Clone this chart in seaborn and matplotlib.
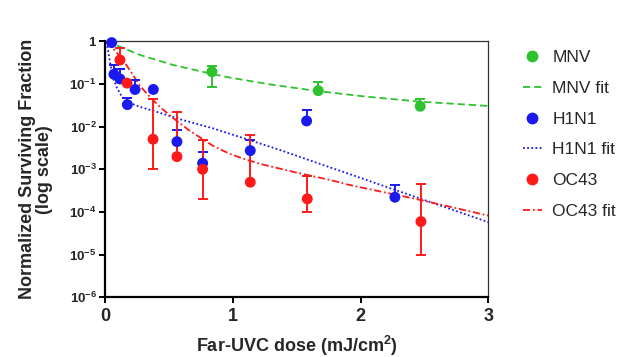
import numpy as np
import pandas as pd
import matplotlib
matplotlib.use("Agg")
import matplotlib.pyplot as plt
from matplotlib.lines import Line2D
import seaborn as sns

# ---------------- data ----------------
mnv_dose = [0.837, 1.669, 2.467]
mnv_frac = [0.194, 0.0697, 0.030]
mnv_hi = [0.264, 0.113, 0.0445]
mnv_lo = [0.0865, 0.0697, 0.030]

h1n1_dose = [0.052, 0.07, 0.117, 0.175, 0.235, 0.378, 0.563, 0.764, 1.137, 1.578, 2.269]
h1n1_frac = [0.93, 0.169, 0.131, 0.0328, 0.0743, 0.0743, 0.00445, 0.00139, 0.00274, 0.0136, 0.000222]
h1n1_hi = [0.93, 0.28, 0.221, 0.048, 0.121, 0.0743, 0.0084, 0.0026, 0.00489, 0.0246, 0.000431]
h1n1_lo = [0.93, 0.169, 0.131, 0.0328, 0.0743, 0.0743, 0.00445, 0.00139, 0.00274, 0.0136, 0.000222]

oc43_dose = [0.117, 0.172, 0.376, 0.563, 0.764, 1.137, 1.583, 2.473]
oc43_frac = [0.365, 0.105, 0.00507, 0.00198, 0.001, 0.000499, 0.000203, 0.0000596]
oc43_hi = [0.708, 0.105, 0.0445, 0.0225, 0.00496, 0.00629, 0.0007, 0.000455]
oc43_lo = [0.365, 0.105, 0.00102, 0.00198, 0.000203, 0.000499, 0.000102, 0.0000099]

# fitted curves
mnv_fit_dose = [0.013, 0.274, 0.532, 0.837, 0.978, 1.291, 1.63, 2.021, 2.465, 3.0]
mnv_fit_frac = [1.0, 0.478, 0.279, 0.172, 0.141, 0.0977, 0.0703, 0.0513, 0.0385, 0.0305]

h1n1_fit_dose = [0.013, 0.039, 0.063, 0.094, 0.133, 0.196, 0.274, 0.407, 0.587, 0.845, 1.111,
                 1.369, 1.761, 1.894, 2.269, 2.676, 3.0]
h1n1_fit_frac = [0.96, 0.327, 0.138, 0.0806, 0.0497, 0.0359, 0.029, 0.0221, 0.0149, 0.00912,
                 0.00505, 0.00284, 0.00111, 0.00081, 0.00033, 0.000125, 0.0000577]

oc43_fit_dose = [0.013, 0.078, 0.141, 0.219, 0.274, 0.352, 0.43, 0.532, 0.665, 0.845, 0.978,
                 1.111, 1.236, 1.502, 1.76, 1.893, 2.465, 3.0]
oc43_fit_frac = [0.96, 0.605, 0.365, 0.1626, 0.0897, 0.0497, 0.029, 0.016, 0.00793, 0.00355,
                 0.00229, 0.00166, 0.00129, 0.000832, 0.000565, 0.000443, 0.000192, 0.0000824]

series_names = ["MNV", "H1N1", "OC43"]
colors = {"MNV": "#2fc22f", "H1N1": "#1a1aee", "OC43": "#ff1a1a"}
y_ticks = [1e-6, 1e-5, 1e-4, 1e-3, 1e-2, 1e-1, 1]
y_ticklabels = [r"$\mathbf{10^{-6}}$", r"$\mathbf{10^{-5}}$", r"$\mathbf{10^{-4}}$",
                r"$\mathbf{10^{-3}}$", r"$\mathbf{10^{-2}}$", r"$\mathbf{10^{-1}}$", r"$\mathbf{1}$"]
x_ticks = [0, 1, 2, 3]

# ---------------- styling ----------------
sns.set_theme(style="ticks")
plt.rcParams["font.family"] = ["Liberation Sans", "DejaVu Sans"]
plt.rcParams["mathtext.fontset"] = "custom"
plt.rcParams["mathtext.rm"] = "Liberation Sans"
plt.rcParams["mathtext.bf"] = "Liberation Sans:bold"
plt.rcParams["mathtext.it"] = "Liberation Sans:italic"

points = pd.concat([
    pd.DataFrame({"dose": mnv_dose, "frac": mnv_frac, "virus": "MNV", "hi": mnv_hi, "lo": mnv_lo}),
    pd.DataFrame({"dose": h1n1_dose, "frac": h1n1_frac, "virus": "H1N1", "hi": h1n1_hi, "lo": h1n1_lo}),
    pd.DataFrame({"dose": oc43_dose, "frac": oc43_frac, "virus": "OC43", "hi": oc43_hi, "lo": oc43_lo}),
], ignore_index=True)
fits = pd.concat([
    pd.DataFrame({"dose": mnv_fit_dose, "frac": mnv_fit_frac, "virus": "MNV"}),
    pd.DataFrame({"dose": h1n1_fit_dose, "frac": h1n1_fit_frac, "virus": "H1N1"}),
    pd.DataFrame({"dose": oc43_fit_dose, "frac": oc43_fit_frac, "virus": "OC43"}),
], ignore_index=True)

fig = plt.figure(figsize=(6.29, 3.57), dpi=100)
ax = fig.add_axes([105 / 629, 1 - 297.3 / 357, (488.3 - 105) / 629, (297.3 - 41.3) / 357])

dashes = {"MNV": (4, 2.2), "H1N1": (1, 1.3), "OC43": (4, 1.5, 1, 1.5)}

for name in series_names:
    sub = fits[fits.virus == name]
    sns.lineplot(data=sub, x="dose", y="frac", ax=ax, color=colors[name], lw=1.3,
                 dashes=False, estimator=None, sort=False, legend=False, zorder=2)
    ax.lines[-1].set_dashes(dashes[name])
    ax.lines[-1].set_solid_joinstyle("round")
    ax.lines[-1].set_dash_joinstyle("round")

for name in series_names:
    sub = points[points.virus == name]
    yerr = np.vstack([sub.frac.values - sub.lo.values, sub.hi.values - sub.frac.values])
    ax.errorbar(sub.dose, sub.frac, yerr=yerr, fmt="none", ecolor=colors[name],
                elinewidth=1.4, capsize=3.8, capthick=1.4, zorder=3, clip_on=False)
    sns.scatterplot(data=sub, x="dose", y="frac", ax=ax, color=colors[name], s=62,
                    edgecolor="none", legend=False, zorder=4, clip_on=False)

ax.set_yscale("log")
ax.set_xlim(0, 3)
ax.set_ylim(1e-6, 1)
ax.set_yticks(y_ticks)
ax.set_yticklabels(y_ticklabels, fontsize=9.5)
ax.yaxis.set_minor_locator(matplotlib.ticker.NullLocator())
ax.set_xticks(x_ticks)
ax.set_xticklabels([str(v) for v in x_ticks], fontsize=13, fontweight="bold")
ax.tick_params(axis="both", direction="out", length=4, width=1.4, color="black", pad=2)
ax.tick_params(axis="x", pad=4)

for side in ["left", "bottom"]:
    ax.spines[side].set_linewidth(1.6)
    ax.spines[side].set_color("black")
for side in ["top", "right"]:
    ax.spines[side].set_linewidth(0.9)
    ax.spines[side].set_color("#333333")

ax.set_xlabel("Far-UVC dose (mJ/cm$^\\mathbf{2}$)", fontsize=13, fontweight="bold", labelpad=6)
ax.set_ylabel("Normalized Surviving Fraction\n(log scale)", fontsize=13, fontweight="bold",
              linespacing=1.0, labelpad=12)

handles = []
labels = []
for name in series_names:
    handles.append(Line2D([], [], marker="o", linestyle="none", color=colors[name], markersize=7.5))
    labels.append(name)
    handles.append(Line2D([], [], color=colors[name], lw=1.3, dashes=dashes[name]))
    labels.append(name + " fit")
fig.legend(handles, labels, loc="upper left", bbox_to_anchor=(516 / 629, 1 - 43 / 357),
           frameon=False, fontsize=12.5, handlelength=1.1, handletextpad=0.6,
           labelspacing=0.9, borderaxespad=0)

fig.savefig("out.png", dpi=100)
